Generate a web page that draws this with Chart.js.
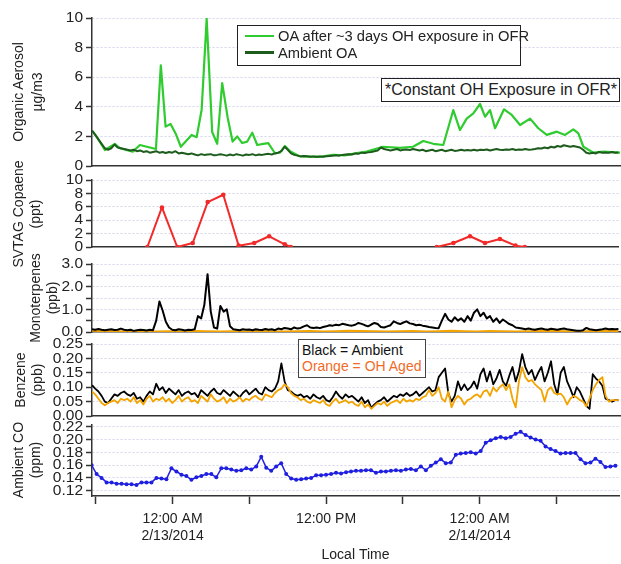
<!DOCTYPE html>
<html><head><meta charset="utf-8">
<script src="https://cdn.jsdelivr.net/npm/chart.js@4"></script>
<style>
html,body{margin:0;padding:0;background:#fff;}
#wrap{position:relative;width:621px;height:564px;overflow:hidden;font-family:"Liberation Sans",Arial,Helvetica,sans-serif;color:#222;}
canvas{position:absolute;left:0;}
.box{position:absolute;background:#fff;border:1.5px solid #222;box-sizing:border-box;white-space:nowrap;z-index:5;}
.row{position:absolute;left:0;white-space:nowrap;}
.ytitle{position:absolute;transform:translate(-50%,-50%) rotate(-90deg);white-space:nowrap;font-size:14px;line-height:16px;z-index:4;color:#222;}
</style></head><body>
<div id="wrap"></div>
<script>
// ---------------- DATA ----------------
// time axis: hours relative to 12:00 AM 2/13/2014 (local time)
const xRangeHours = [-6.3, 34.9];
const xTickHours = [-6, 0, 6, 12, 18, 24, 30];
const xTickLabels = ['', ['12:00 AM', '2/13/2014'], '', '12:00 PM', '', ['12:00 AM', '2/14/2014'], ''];
const xAxisTitle = 'Local Time';

// Panel 1: Organic aerosol
const oaAfterLabel = 'OA after ~3 days OH exposure in OFR';
const oaAmbientLabel = 'Ambient OA';
const oaAfterHours = [-6.26,-5.95,-5.30,-4.52,-4.13,-3.12,-2.57,-2.03,-1.32,-0.94,-0.57,-0.18,0.21,0.62,1.46,1.85,2.24,2.63,3.06,3.45,3.84,4.26,4.65,5.01,5.40,5.79,6.18,6.57,7.04,7.43,7.95,8.34,8.73,9.12,9.64,9.90,10.6,11.45,12.47,13.4,14.2,15.09,16.36,17.68,18.70,19.50,20.28,21.06,21.84,22.36,22.88,23.40,23.92,24.31,24.70,25.09,25.79,26.39,27.04,27.82,28.46,29.12,29.90,30.54,31.19,31.58,31.97,32.75,33.53,34.83];
const oaAfterValues = [2.35,2.0,1.08,1.49,1.2,0.97,1.42,1.3,1.15,6.8,2.66,2.84,2.2,1.3,2.1,1.95,3.8,9.95,2.3,1.5,5.6,3.3,1.65,2.0,1.55,1.65,2.25,1.42,1.5,1.55,0.86,0.9,1.35,1.0,0.76,0.65,0.63,0.62,0.76,0.72,0.85,0.97,1.3,1.22,1.3,1.69,1.5,1.42,3.78,2.43,3.2,3.56,4.19,3.33,3.78,2.55,3.83,3.45,2.77,3.2,2.55,2.1,2.32,2.1,2.48,2.2,1.3,0.9,0.97,0.9];
// dense instruments: sampled every 0.25 h starting at -6.3 h
const denseStartHour = -6.3, denseStepHours = 0.25;
const oaAmbientValues = [2.4,2.1,1.8,1.5,1.2,1.1,1.2,1.45,1.25,1.2,
 1.15,1.1,1.05,1.1,1.0,1.05,0.95,1.0,0.9,0.95,
 1.0,0.9,0.95,0.88,0.95,0.9,1.0,0.85,0.9,0.85,
 0.8,0.85,0.78,0.72,0.8,0.75,0.78,0.8,0.72,0.75,
 0.8,0.75,0.7,0.78,0.72,0.8,0.75,0.7,0.78,0.75,
 0.8,0.72,0.78,0.75,0.8,0.82,0.78,0.85,0.9,1.0,
 1.3,1.1,0.85,0.75,0.7,0.65,0.68,0.66,0.62,0.65,
 0.63,0.65,0.62,0.66,0.68,0.7,0.72,0.7,0.75,0.78,
 0.8,0.78,0.85,0.82,0.9,0.88,0.92,0.95,1.0,1.05,
 1.25,1.15,1.1,1.05,1.1,1.15,1.05,1.1,1.12,1.08,
 1.15,1.1,1.05,1.1,1.0,1.05,1.1,1.0,1.05,1.1,
 1.0,1.05,1.1,1.02,1.05,1.1,1.05,1.08,1.05,1.1,
 1.05,1.1,1.08,1.12,1.05,1.1,1.15,1.1,1.08,1.12,
 1.1,1.15,1.08,1.12,1.1,1.15,1.1,1.12,1.15,1.2,
 1.18,1.25,1.2,1.3,1.25,1.35,1.3,1.4,1.35,1.3,
 1.35,1.3,1.25,1.1,0.9,0.85,0.9,0.85,0.95,0.9,
 0.92,0.9,0.95,0.9,0.92];

// Panel 2: SVTAG Copaene (ppt)
const copaeneHours = [-1.97,-0.83,0.37,1.58,2.75,3.97,5.17,6.39,7.56,8.78,9.25,15,20.67,21.97,23.27,24.44,25.61,26.83,27.56];
const copaeneValues = [0,5.9,0,0.6,6.7,7.8,0.2,0.6,1.6,0.4,0,null,0,0.6,1.6,0.6,1.2,0.2,0];

// Panel 3: Monoterpenes (ppb)
const monoAmbientValues = [0.12,0.1,0.13,0.1,0.08,0.1,0.12,0.09,0.1,0.15,0.1,0.08,0.1,0.05,0.08,0.1,0.09,0.07,0.1,0.08,
 0.5,1.35,0.95,0.45,0.2,0.1,
 0.08,0.12,0.1,0.07,0.1,0.09,0.12,
 0.7,0.6,1.2,2.55,0.9,0.2,0.15,1.15,0.9,1.0,0.25,0.12,
 0.1,0.08,0.12,0.1,0.11,0.08,0.12,0.1,0.09,0.13,0.1,0.12,0.08,0.15,0.12,0.18,0.15,0.12,0.2,0.15,
 0.18,0.25,0.3,0.2,0.18,0.2,0.17,0.22,0.25,0.3,0.28,0.32,0.3,0.36,0.33,0.3,0.28,0.32,0.4,0.36,0.3,0.25,0.33,0.4,0.35,0.22,0.2,0.25,0.3,0.47,0.4,0.35,0.42,0.47,0.38,
 0.35,0.3,0.32,0.28,0.25,0.22,0.2,0.18,0.17,0.5,
 0.8,0.55,0.45,0.65,0.5,0.6,0.45,0.7,0.5,0.85,1.0,0.7,0.85,0.6,0.7,0.45,0.6,0.4,0.55,0.45,
 0.35,0.3,0.2,0.18,0.15,0.12,0.15,0.12,0.1,0.13,0.15,0.12,0.1,0.14,0.12,0.1,0.13,0.15,0.12,0.1,0.08,0.06,0.05,0.08,0.18,0.12,0.1,0.08,0.1,0.12,0.15,0.12,0.13,0.12,0.13];
const monoAgedStartHour = -6.3, monoAgedStepHours = 1;
const monoAgedValues = [0.05,0.04,0.03,0.02,0.03,0.02,0.03,0.02,0.04,0.03,0.02,0.03,0.02,0.04,0.03,0.02,0.03,0.04,0.02,0.03,0.05,0.04,0.03,0.02,0.03,0.04,0.02,0.03,0.05,0.03,0.02,0.04,0.03,0.02,0.03,0.05,0.04,0.03,0.02,0.04,0.05,0.04];

// Panel 4: Benzene (ppb)
const benzeneAmbientValues = [0.107,0.095,0.085,0.07,0.05,0.045,0.06,0.075,0.07,0.08,
 0.085,0.075,0.07,0.08,0.06,0.065,0.05,0.07,0.085,0.075,
 0.112,0.09,0.1,0.08,0.095,0.085,0.075,0.09,0.07,0.08,
 0.085,0.075,0.08,0.065,0.09,0.08,0.07,0.085,0.095,0.08,
 0.075,0.09,0.08,0.07,0.085,0.075,0.065,0.08,0.09,0.075,
 0.085,0.095,0.08,0.075,0.1,0.09,0.085,0.095,0.12,0.183,
 0.12,0.09,0.085,0.075,0.07,0.075,0.065,0.07,0.06,0.075,
 0.065,0.06,0.07,0.055,0.05,0.065,0.085,0.07,0.06,0.075,
 0.065,0.07,0.06,0.05,0.065,0.045,0.055,0.028,0.04,0.05,
 0.055,0.065,0.05,0.06,0.07,0.065,0.075,0.07,0.08,0.07,
 0.075,0.085,0.07,0.08,0.09,0.1,0.085,0.09,0.135,0.15,
 0.165,0.08,0.05,0.07,0.12,0.09,0.11,0.09,0.1,0.12,
 0.095,0.145,0.165,0.12,0.155,0.11,0.13,0.16,0.12,0.105,
 0.14,0.17,0.12,0.155,0.215,0.17,0.145,0.16,0.125,0.15,
 0.17,0.12,0.15,0.19,0.11,0.075,0.15,0.17,0.12,0.095,
 0.065,0.1,0.085,0.06,0.035,0.025,0.145,0.13,0.12,0.105,
 0.06,0.055,0.05,0.055,0.055];
const benzeneAgedValues = [0.085,0.075,0.06,0.045,0.037,0.045,0.05,0.055,0.045,0.06,
 0.055,0.06,0.05,0.065,0.045,0.055,0.04,0.06,0.07,0.05,
 0.06,0.055,0.065,0.05,0.06,0.045,0.055,0.07,0.05,0.06,
 0.065,0.05,0.055,0.045,0.07,0.06,0.05,0.075,0.06,0.05,
 0.055,0.065,0.045,0.06,0.05,0.055,0.065,0.05,0.06,0.055,
 0.065,0.07,0.06,0.055,0.075,0.07,0.065,0.08,0.09,0.095,
 0.11,0.1,0.08,0.07,0.065,0.055,0.06,0.05,0.045,0.055,
 0.05,0.045,0.055,0.04,0.035,0.05,0.06,0.045,0.05,0.055,
 0.045,0.05,0.04,0.035,0.05,0.03,0.04,0.025,0.035,0.045,
 0.04,0.05,0.035,0.045,0.05,0.055,0.045,0.06,0.05,0.055,
 0.05,0.06,0.055,0.065,0.07,0.09,0.07,0.08,0.1,0.06,
 0.05,0.085,0.03,0.055,0.07,0.06,0.04,0.055,0.06,0.07,
 0.075,0.065,0.085,0.09,0.07,0.1,0.085,0.1,0.11,0.09,
 0.11,0.06,0.03,0.12,0.17,0.135,0.12,0.125,0.11,0.1,
 0.09,0.05,0.09,0.1,0.08,0.075,0.078,0.065,0.04,0.06,
 0.07,0.065,0.055,0.05,0.033,0.06,0.09,0.11,0.125,0.135,
 0.07,0.05,0.055,0.055,0.055];
const benzeneNoteLines = ['Black = Ambient', 'Orange = OH Aged'];

// Panel 5: Ambient CO (ppm), sampled every 0.39 h
const coStartHour = -6.33, coStepHours = 0.39;
const coValues = [0.16,0.146,0.14,0.133,0.133,0.131,0.131,0.13,0.13,0.129,
 0.133,0.133,0.133,0.14,0.139,0.138,0.155,0.15,0.145,0.143,
 0.137,0.141,0.143,0.146,0.146,0.141,0.155,0.155,0.153,0.151,
 0.152,0.155,0.153,0.158,0.173,0.156,0.151,0.158,0.163,0.146,
 0.139,0.137,0.138,0.139,0.14,0.144,0.144,0.145,0.146,0.148,
 0.147,0.149,0.15,0.151,0.151,0.152,0.152,0.148,0.15,0.15,
 0.151,0.152,0.151,0.153,0.154,0.152,0.158,0.152,0.159,0.164,
 0.169,0.163,0.164,0.176,0.178,0.179,0.18,0.178,0.182,0.195,
 0.199,0.202,0.204,0.202,0.204,0.209,0.212,0.207,0.203,0.2,
 0.198,0.189,0.185,0.182,0.178,0.179,0.179,0.179,0.169,0.163,
 0.164,0.17,0.165,0.157,0.158,0.159];

const oaNote = '*Constant OH Exposure in OFR*';

// y axes: ticks, labels and titles
const yTicksOA = [0,2,4,6,8,10], yLabelsOA = ['0','2','4','6','8','10'];
const yTicksCop = [0,2,4,6,8,10], yLabelsCop = ['0','2','4','6','8','10'];
const yTicksMono = [0,0.5,1,1.5,2,2.5,3], yLabelsMono = ['0.0','','1.0','','2.0','','3.0'];
const yTicksBenz = [0,0.05,0.1,0.15,0.2,0.25], yLabelsBenz = ['0.00','0.05','0.10','0.15','0.20','0.25'];
const yTicksCO = [0.12,0.14,0.16,0.18,0.2,0.22], yLabelsCO = ['0.12','0.14','0.16','0.18','0.20','0.22'];
const yTitleOA = ['Organic Aerosol', 'µg/m3'];
const yTitleCop = ['SVTAG Copaene', '(ppt)'];
const yTitleMono = ['Monoterpenes', '(ppb)'];
const yTitleBenz = ['Benzene', '(ppb)'];
const yTitleCO = ['Ambient CO', '(ppm)'];

// ---------------- STYLE / BUILD ----------------
const FONT = '"Liberation Sans", Arial, Helvetica, sans-serif';
const C_GREEN = '#2fcb2f', C_DKGREEN = '#1d5c1d', C_RED = '#f22a2a', C_ORANGE = '#f3a400', C_BLUE = '#1f1fe0', C_BLACK = '#000000';
const GRID = '#d4d4ee', AXIS = '#333333';

const pts = (xs, ys) => ys.map((y, i) => ({x: xs[i], y}));
const hoursFrom = (start, step, n) => Array.from({length: n}, (_, i) => +(start + step * i).toFixed(4));
const denseHours = n => hoursFrom(denseStartHour, denseStepHours, n);

const wrap = document.getElementById('wrap');

function lineDs(label, xs, ys, color, width, radius) {
  return {label, data: pts(xs, ys), borderColor: color, backgroundColor: color, borderWidth: width,
    pointRadius: radius || 0, pointHoverRadius: 0, pointBorderWidth: 0, tension: 0, spanGaps: false,
    borderJoinStyle: 'round'};
}

function makePanel(cfg) {
  const cv = document.createElement('canvas');
  cv.width = 621; cv.height = cfg.height;
  cv.style.top = cfg.top + 'px';
  wrap.appendChild(cv);
  const bottom = !!cfg.bottom;
  const yMin = cfg.yMin;
  new Chart(cv, {
    type: 'line',
    data: {datasets: cfg.datasets},
    options: {
      responsive: false, animation: false, devicePixelRatio: 1,
      layout: {padding: {top: cfg.padTop, bottom: cfg.padBottom, left: 0, right: 0}},
      plugins: {legend: {display: false}, tooltip: {enabled: false}},
      scales: {
        x: {
          type: 'linear', min: xRangeHours[0], max: xRangeHours[1],
          afterBuildTicks: s => { s.ticks = xTickHours.map(v => ({value: v})); },
          afterFit: s => { if (bottom) s.height = cfg.xAxisHeight; },
          ticks: {display: bottom, autoSkip: false, maxRotation: 0, minRotation: 0, padding: 7, color: '#222',
                  font: {size: 14, family: FONT}, callback: (v, i) => xTickLabels[i]},
          grid: {display: bottom, drawOnChartArea: false, drawTicks: bottom, tickLength: 8, tickColor: AXIS, tickWidth: 1.5},
          border: {display: true, color: AXIS, width: 1.5},
          title: {display: bottom, text: xAxisTitle, color: '#222', padding: {top: 0, bottom: 0}, font: {size: 14, family: FONT}}
        },
        y: {
          min: cfg.yMin, max: cfg.yMax,
          afterBuildTicks: s => { s.ticks = cfg.yTicks.map(v => ({value: v})); },
          afterFit: s => { s.width = 92; },
          ticks: {autoSkip: false, padding: 3, color: '#222', font: {size: 15.5, family: FONT, lineHeight: 1},
                  callback: (v, i) => cfg.yLabels[i]},
          grid: {color: c => (c.tick && Math.abs(c.tick.value - yMin) < 1e-9) ? 'rgba(0,0,0,0)' : GRID,
                 lineWidth: 1, drawTicks: true, tickLength: 6, tickColor: AXIS, tickWidth: 1.5},
          border: {display: true, color: AXIS, width: 1.5, dash: [2, 2]}
        }
      }
    }
  });
  // y axis title (two lines, rotated)
  cfg.title.forEach((t, i) => {
    const d = document.createElement('div');
    d.className = 'ytitle';
    d.textContent = t;
    d.style.left = cfg.titleX[i] + 'px';
    d.style.top = cfg.titleY + 'px';
    wrap.appendChild(d);
  });
}

// Panel 1
const dsOAAfter = lineDs(oaAfterLabel, oaAfterHours, oaAfterValues, C_GREEN, 2.2);
const dsOAAmb = lineDs(oaAmbientLabel, denseHours(oaAmbientValues.length), oaAmbientValues, C_DKGREEN, 2);
makePanel({top: 0, height: 186, padTop: 18, padBottom: 20, yMin: 0, yMax: 10, yTicks: yTicksOA, yLabels: yLabelsOA,
  datasets: [dsOAAmb, dsOAAfter], title: yTitleOA, titleX: [18, 37], titleY: 92});

// Panel 2
makePanel({top: 155, height: 117, padTop: 25, padBottom: 25, yMin: 0, yMax: 10, yTicks: yTicksCop, yLabels: yLabelsCop,
  datasets: [lineDs('SVTAG Copaene', copaeneHours, copaeneValues, C_RED, 2, 2.3)],
  title: yTitleCop, titleX: [18, 35], titleY: 214});

// Panel 3
makePanel({top: 244, height: 108, padTop: 20, padBottom: 20, yMin: 0, yMax: 3, yTicks: yTicksMono, yLabels: yLabelsMono,
  datasets: [lineDs('Monoterpenes ambient', denseHours(monoAmbientValues.length), monoAmbientValues, C_BLACK, 2),
             lineDs('Monoterpenes OH aged', hoursFrom(monoAgedStartHour, monoAgedStepHours, monoAgedValues.length), monoAgedValues, C_ORANGE, 2)],
  title: yTitleMono, titleX: [35, 52], titleY: 298});

// Panel 4
makePanel({top: 324, height: 112, padTop: 20, padBottom: 20, yMin: 0, yMax: 0.25, yTicks: yTicksBenz, yLabels: yLabelsBenz,
  datasets: [lineDs('Benzene OH aged', denseHours(benzeneAgedValues.length), benzeneAgedValues, C_ORANGE, 1.8),
             lineDs('Benzene ambient', denseHours(benzeneAmbientValues.length), benzeneAmbientValues, C_BLACK, 1.8)],
  title: yTitleBenz, titleX: [20, 37], titleY: 380});

// Panel 5
makePanel({top: 405, height: 159, padTop: 20, padBottom: 0, bottom: true, xAxisHeight: 68,
  yMin: 0.1117, yMax: 0.2227, yTicks: yTicksCO, yLabels: yLabelsCO,
  datasets: [lineDs('Ambient CO', hoursFrom(coStartHour, coStepHours, coValues.length), coValues, C_BLUE, 1.5, 2)],
  title: yTitleCO, titleX: [18, 35], titleY: 460});

// Legend (panel 1) built from datasets
(function(){
  const box = document.createElement('div');
  box.className = 'box';
  Object.assign(box.style, {left: '237px', top: '25px', width: '284px', height: '41px', fontSize: '14.7px'});
  [dsOAAfter, dsOAAmb].forEach((ds, i) => {
    const r = document.createElement('div');
    r.className = 'row';
    Object.assign(r.style, {top: (2 + i * 16.5) + 'px', height: '17px', lineHeight: '17px', left: '7px'});
    const sw = document.createElement('span');
    Object.assign(sw.style, {display: 'inline-block', width: '29px', height: '2.5px', background: ds.borderColor,
      verticalAlign: 'middle', marginRight: '4px', position: 'relative', top: '-1px'});
    r.appendChild(sw);
    r.appendChild(document.createTextNode(ds.label));
    box.appendChild(r);
  });
  wrap.appendChild(box);

  const note = document.createElement('div');
  note.className = 'box';
  Object.assign(note.style, {left: '381px', top: '78px', width: '239px', height: '24px', fontSize: '16px',
    lineHeight: '21px', paddingLeft: '3px'});
  note.textContent = oaNote;
  wrap.appendChild(note);

  const bz = document.createElement('div');
  bz.className = 'box';
  Object.assign(bz.style, {left: '298px', top: '339px', width: '128px', height: '39px', fontSize: '14px', borderColor: '#444'});
  const colors = ['#111111', '#f26b2a'];
  benzeneNoteLines.forEach((t, i) => {
    const r = document.createElement('div');
    r.className = 'row';
    Object.assign(r.style, {top: (2 + i * 15.5) + 'px', left: '3px', lineHeight: '16px', color: colors[i]});
    r.textContent = t;
    bz.appendChild(r);
  });
  wrap.appendChild(bz);
})();
</script>
</body></html>
